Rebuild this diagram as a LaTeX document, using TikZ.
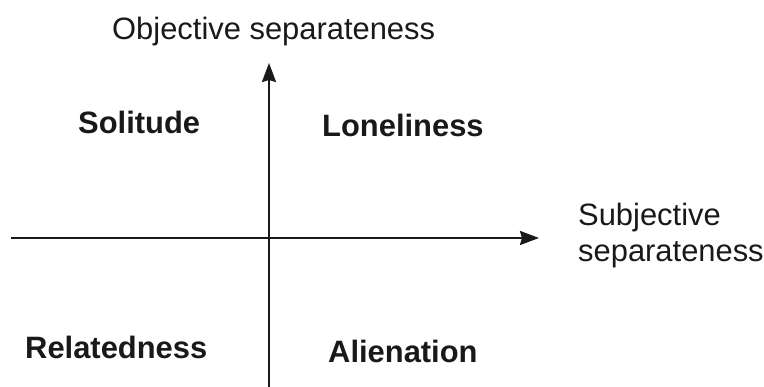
\documentclass[tikz,border=0pt]{standalone}
\usepackage{fontspec}
\setmainfont{Liberation Sans}
\usetikzlibrary{arrows.meta}
\begin{document}
\begin{tikzpicture}[x=1pt,y=-1pt,
  axis/.style={line width=2.2pt,draw=black!90,-{Stealth[length=19pt,width=14pt,inset=2pt]}},
  lbl/.style={anchor=base west,inner sep=0pt,font=\fontsize{30.9}{34}\selectfont,text=black!90},
  qlbl/.style={lbl,font=\fontsize{30.9}{34}\selectfont\bfseries}]
\useasboundingbox (0,0) rectangle (764,387);
\coordinate (vb) at (269,387);
\coordinate (vt) at (269,63);
\coordinate (hl) at (11,238);
\coordinate (hr) at (539,238);
\draw[axis] (vb) -- (vt);
\draw[axis] (hl) -- (hr);
\node[lbl] (obj) at (112,40) {Objective separateness};
\node[lbl] (subj1) at (578,226) {Subjective};
\node[lbl] (subj2) at (578,262) {separateness};
\node[qlbl] (sol) at (78,134) {Solitude};
\node[qlbl] (lon) at (322,137) {Loneliness};
\node[qlbl] (rel) at (25,359) {Relatedness};
\node[qlbl] (ali) at (328,363) {Alienation};
\end{tikzpicture}
\end{document}
